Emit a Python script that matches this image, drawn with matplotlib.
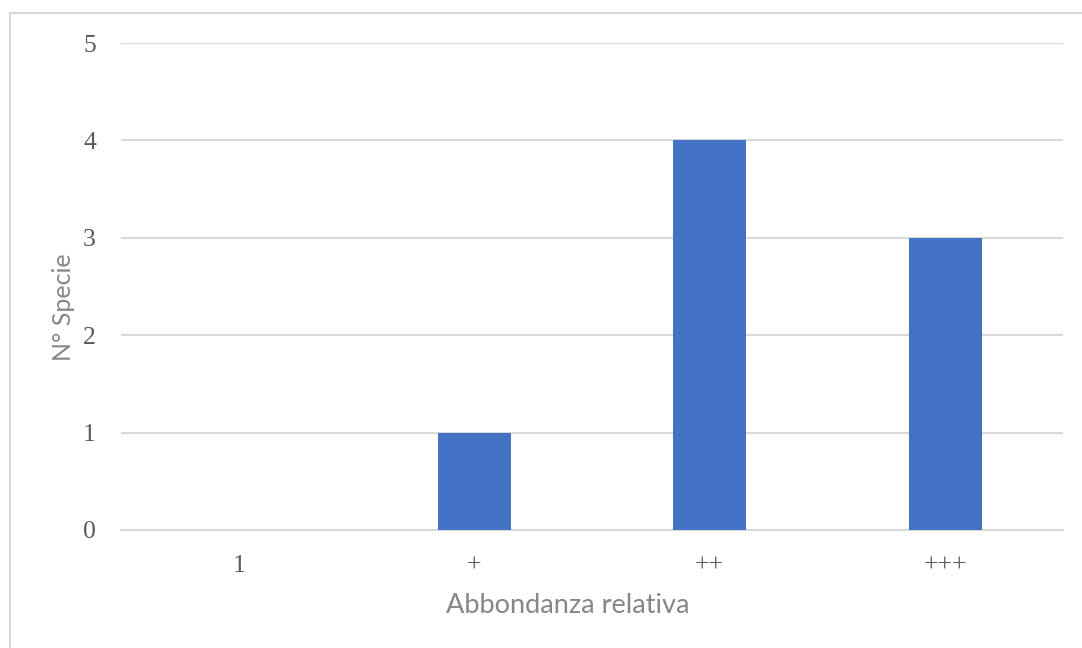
import matplotlib.pyplot as plt
from matplotlib.patches import Rectangle

categories = ["1", "+", "++", "+++"]
n_species = [0, 1, 4, 3]

fig = plt.figure(figsize=(10.82, 6.48), dpi=100)
ax = fig.add_axes([121 / 1082, 1 - 530 / 648, 942 / 1082, 487 / 648])

# light frame around the chart area
fig.patches.append(Rectangle((10 / 1082, -0.1), 1.2, (648 - 13) / 648 + 0.1,
                             transform=fig.transFigure, fill=False,
                             edgecolor="#d9d9d9", linewidth=1.5))

x = range(len(categories))
ax.bar(x, n_species, width=0.31, color="#4472c4", zorder=3)

ax.set_xlim(-0.5, len(categories) - 0.5)
ax.set_ylim(0, 5)
ax.set_yticks(range(6))
ax.set_xticks(list(x))
ax.set_xticklabels(categories)

ax.grid(axis="y", color="#d9d9d9", linewidth=1.5, zorder=0)
for side in ["top", "right", "left"]:
    ax.spines[side].set_visible(False)
ax.spines["bottom"].set_color("#d9d9d9")
ax.spines["bottom"].set_linewidth(1.5)
ax.tick_params(length=0, colors="#595959", labelsize=18.5)
ax.tick_params(axis="y", pad=18)
ax.tick_params(axis="x", pad=18)
for lbl in ax.get_xticklabels() + ax.get_yticklabels():
    lbl.set_family("Liberation Serif")

ax.set_xlabel("Abbondanza relativa", fontsize=19.5, color="#868686",
              family="Lato", va="top")
ax.set_ylabel("N° Specie", fontsize=18, color="#868686", family="Lato")
ax.xaxis.set_label_coords((568 - 121) / 942, (530 - 593) / 487)
ax.yaxis.set_label_coords((75 - 121) / 942, (530 - 307) / 487)

fig.savefig("out.png", dpi=100)
